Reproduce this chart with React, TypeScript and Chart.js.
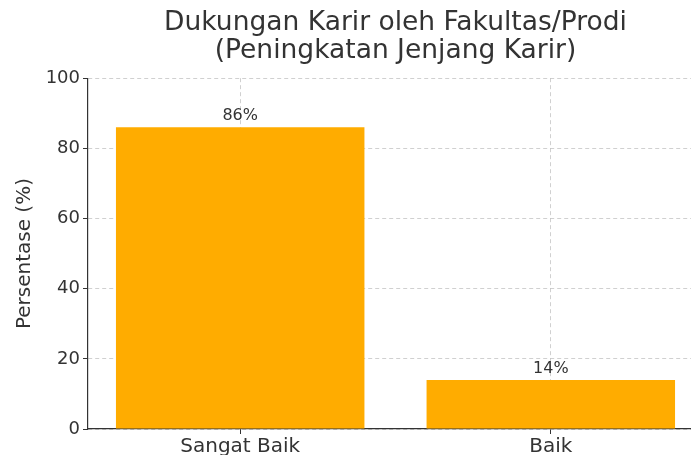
import React, { useEffect, useRef } from "react";
import { Chart, registerables } from "chart.js";

Chart.register(...registerables);

const categories = ["Sangat Baik", "Baik"];
const values = [86, 14];
const yTicks = [0, 20, 40, 60, 80, 100];
const titleLines = ["Dukungan Karir oleh Fakultas/Prodi", "(Peningkatan Jenjang Karir)"];
const yTitle = "Persentase (%)";

const FONT = "'DejaVu Sans', sans-serif";
const TEXT = "#333333";
const BAR = "#ffac00";
const GRID = "rgba(176,176,176,0.75)";

const valueLabels = {
  id: "valueLabels",
  afterDatasetsDraw(chart: any) {
    const ctx = chart.ctx;
    const meta = chart.getDatasetMeta(0);
    ctx.save();
    ctx.font = `16px ${FONT}`;
    ctx.fillStyle = TEXT;
    ctx.textAlign = "center";
    ctx.textBaseline = "alphabetic";
    meta.data.forEach((el: any, i: number) => {
      ctx.fillText(`${values[i]}%`, el.x, el.y - 7);
    });
    ctx.restore();
  },
};

export default function App() {
  const ref = useRef<HTMLCanvasElement | null>(null);
  useEffect(() => {
    if (!ref.current) return;
    const chart = new Chart(ref.current, {
      type: "bar",
      data: {
        datasets: [
          {
            data: categories.map((c, i) => ({ x: i, y: values[i] })),
            backgroundColor: BAR,
            borderWidth: 0,
            barPercentage: 0.8,
            categoryPercentage: 1,
          },
        ],
      },
      plugins: [valueLabels],
      options: {
        animation: false,
        responsive: false,
        maintainAspectRatio: false,
        devicePixelRatio: 1,
        layout: { padding: { left: 0, right: 17, top: 0, bottom: 0 } },
        plugins: {
          legend: { display: false },
          tooltip: { enabled: false },
          title: {
            display: true,
            text: titleLines,
            fullSize: false,
            color: TEXT,
            font: { family: FONT, size: 26.5, weight: "normal", lineHeight: 1.06 },
            padding: { top: 9, bottom: 13 },
          },
        },
        scales: {
          x: {
            type: "linear",
            min: -0.49,
            max: 1.49,
            offset: false,
            z: 1,
            afterBuildTicks: (axis: any) => {
              axis.ticks = categories.map((_, i) => ({ value: i }));
            },
            afterFit: (axis: any) => {
              axis.height = 26;
            },
            ticks: {
              stepSize: 1,
              autoSkip: false,
              maxRotation: 0,
              padding: 1,
              color: TEXT,
              font: { family: FONT, size: 20 },
              callback: (v: any) => categories[v] ?? "",
            },
            grid: {
              offset: false,
              color: GRID,
              tickColor: TEXT,
              tickLength: 5,
              tickWidth: 1,
              lineWidth: 0.8,
            },
            border: { display: true, color: TEXT, width: 1.2, dash: [4, 3] },
          },
          y: {
            min: 0,
            max: 100,
            z: 1,
            afterBuildTicks: (axis: any) => {
              axis.ticks = yTicks.map((v) => ({ value: v }));
            },
            afterFit: (axis: any) => {
              axis.width = 88;
            },
            ticks: {
              stepSize: 20,
              padding: 3,
              color: TEXT,
              font: { family: FONT, size: 18 },
            },
            grid: {
              color: GRID,
              tickColor: TEXT,
              tickLength: 5,
              tickWidth: 1,
              lineWidth: 0.8,
            },
            border: { display: true, color: TEXT, width: 1.2, dash: [4, 3] },
            title: {
              display: true,
              text: yTitle,
              color: TEXT,
              font: { family: FONT, size: 20 },
              padding: { top: 13, bottom: 0 },
            },
          },
        },
      },
    });
    return () => chart.destroy();
  }, []);
  return (
    <div style={{ position: "absolute", left: 0, top: 0, width: 691, height: 455, overflow: "hidden", background: "#fff" }}>
      <canvas ref={ref} width={720} height={455} style={{ display: "block" }} />
    </div>
  );
}
